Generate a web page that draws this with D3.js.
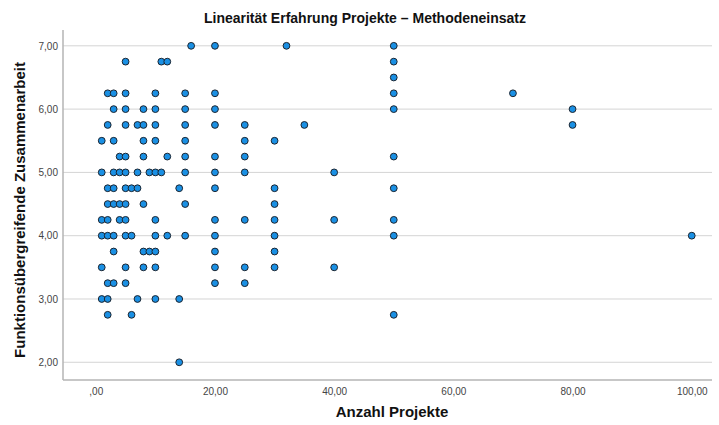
<!DOCTYPE html>
<html>
<head>
<meta charset="utf-8">
<script src="https://cdn.jsdelivr.net/npm/d3@7"></script>
<style>
  body { margin: 0; background: #fff; }
  text { font-family: "Liberation Sans", Arial, sans-serif; }
</style>
</head>
<body>
<svg id="chart" width="719" height="425"></svg>
<script>
// Anzahl Projekte per value of Funktionsübergreifende Zusammenarbeit
const rows = [
  { y: 7.00, xs: [16, 20, 32, 50] },
  { y: 6.75, xs: [5, 11, 12, 50] },
  { y: 6.50, xs: [50] },
  { y: 6.25, xs: [2, 3, 5, 10, 15, 20, 50, 70] },
  { y: 6.00, xs: [3, 5, 8, 10, 15, 20, 50, 80] },
  { y: 5.75, xs: [2, 5, 7, 8, 10, 15, 20, 25, 35, 80] },
  { y: 5.50, xs: [1, 3, 8, 10, 15, 25, 30] },
  { y: 5.25, xs: [4, 5, 8, 12, 15, 20, 25, 50] },
  { y: 5.00, xs: [1, 3, 4, 5, 7, 9, 10, 11, 15, 20, 25, 40] },
  { y: 4.75, xs: [2, 3, 5, 6, 7, 14, 20, 30, 50] },
  { y: 4.50, xs: [2, 3, 4, 5, 8, 15, 30] },
  { y: 4.25, xs: [1, 2, 4, 5, 10, 20, 25, 30, 40, 50] },
  { y: 4.00, xs: [1, 2, 3, 5, 6, 10, 12, 15, 20, 30, 50, 100] },
  { y: 3.75, xs: [3, 8, 9, 10, 20, 30] },
  { y: 3.50, xs: [1, 5, 8, 10, 20, 25, 30, 40] },
  { y: 3.25, xs: [2, 3, 5, 20, 25] },
  { y: 3.00, xs: [1, 2, 7, 10, 14] },
  { y: 2.75, xs: [2, 6, 50] },
  { y: 2.00, xs: [14] }
];
const xTicks = [0, 20, 40, 60, 80, 100];
const yTicks = [2, 3, 4, 5, 6, 7];
const title = 'Linearität Erfahrung Projekte – Methodeneinsatz';
const xTitle = 'Anzahl Projekte';
const yTitle = 'Funktionsübergreifende Zusammenarbeit';

const points = rows.flatMap(r => r.xs.map(x => ({ x: x, y: r.y })));

const svg = d3.select('#chart');
const margin = { left: 63, right: 712, top: 30, bottom: 380 };

const x = d3.scaleLinear().domain([-5.5, 103.4]).range([margin.left, margin.right]);
const y = d3.scaleLinear().domain([1.72, 7.25]).range([margin.bottom, margin.top]);
const fmt = v => d3.format('.2f')(v).replace('.', ',').replace(/^0,/, ',');

// gridlines
svg.append('g')
  .selectAll('line')
  .data(yTicks)
  .join('line')
  .attr('x1', margin.left).attr('x2', margin.right)
  .attr('y1', d => y(d)).attr('y2', d => y(d))
  .attr('stroke', '#d4d4d4')
  .attr('stroke-width', 1);

// axes
const gx = svg.append('g')
  .attr('transform', 'translate(0,' + margin.bottom + ')')
  .call(d3.axisBottom(x).tickValues(xTicks).tickFormat(fmt).tickSize(0).tickPadding(8));
const gy = svg.append('g')
  .attr('transform', 'translate(' + margin.left + ',0)')
  .call(d3.axisLeft(y).tickValues(yTicks).tickFormat(fmt).tickSize(0).tickPadding(5));

[gx, gy].forEach(g => {
  g.select('.domain').remove();
  g.selectAll('text')
    .attr('fill', '#444')
    .style('font-size', '10px');
});

svg.append('line')
  .attr('x1', margin.left).attr('x2', margin.left)
  .attr('y1', margin.top).attr('y2', margin.bottom)
  .attr('stroke', '#b4b4b4').attr('stroke-width', 1.5);
svg.append('line')
  .attr('x1', margin.left).attr('x2', margin.right)
  .attr('y1', margin.bottom).attr('y2', margin.bottom)
  .attr('stroke', '#b4b4b4').attr('stroke-width', 1.5);

// points
svg.append('g')
  .selectAll('circle')
  .data(points)
  .join('circle')
  .attr('cx', d => x(d.x))
  .attr('cy', d => y(d.y))
  .attr('r', 3.4)
  .attr('fill', '#1a90e4')
  .attr('stroke', '#1c2530')
  .attr('stroke-width', 1);

// titles
svg.append('text')
  .attr('x', 365).attr('y', 23)
  .attr('text-anchor', 'middle')
  .style('font-size', '14px').style('font-weight', 'bold')
  .attr('fill', '#111')
  .text(title);

svg.append('text')
  .attr('x', 392).attr('y', 417)
  .attr('text-anchor', 'middle')
  .style('font-size', '15px').style('font-weight', 'bold')
  .attr('fill', '#111')
  .text(xTitle);

svg.append('text')
  .attr('transform', 'translate(25,210) rotate(-90)')
  .attr('text-anchor', 'middle')
  .style('font-size', '15px').style('font-weight', 'bold')
  .attr('fill', '#111')
  .text(yTitle);
</script>
</body>
</html>
